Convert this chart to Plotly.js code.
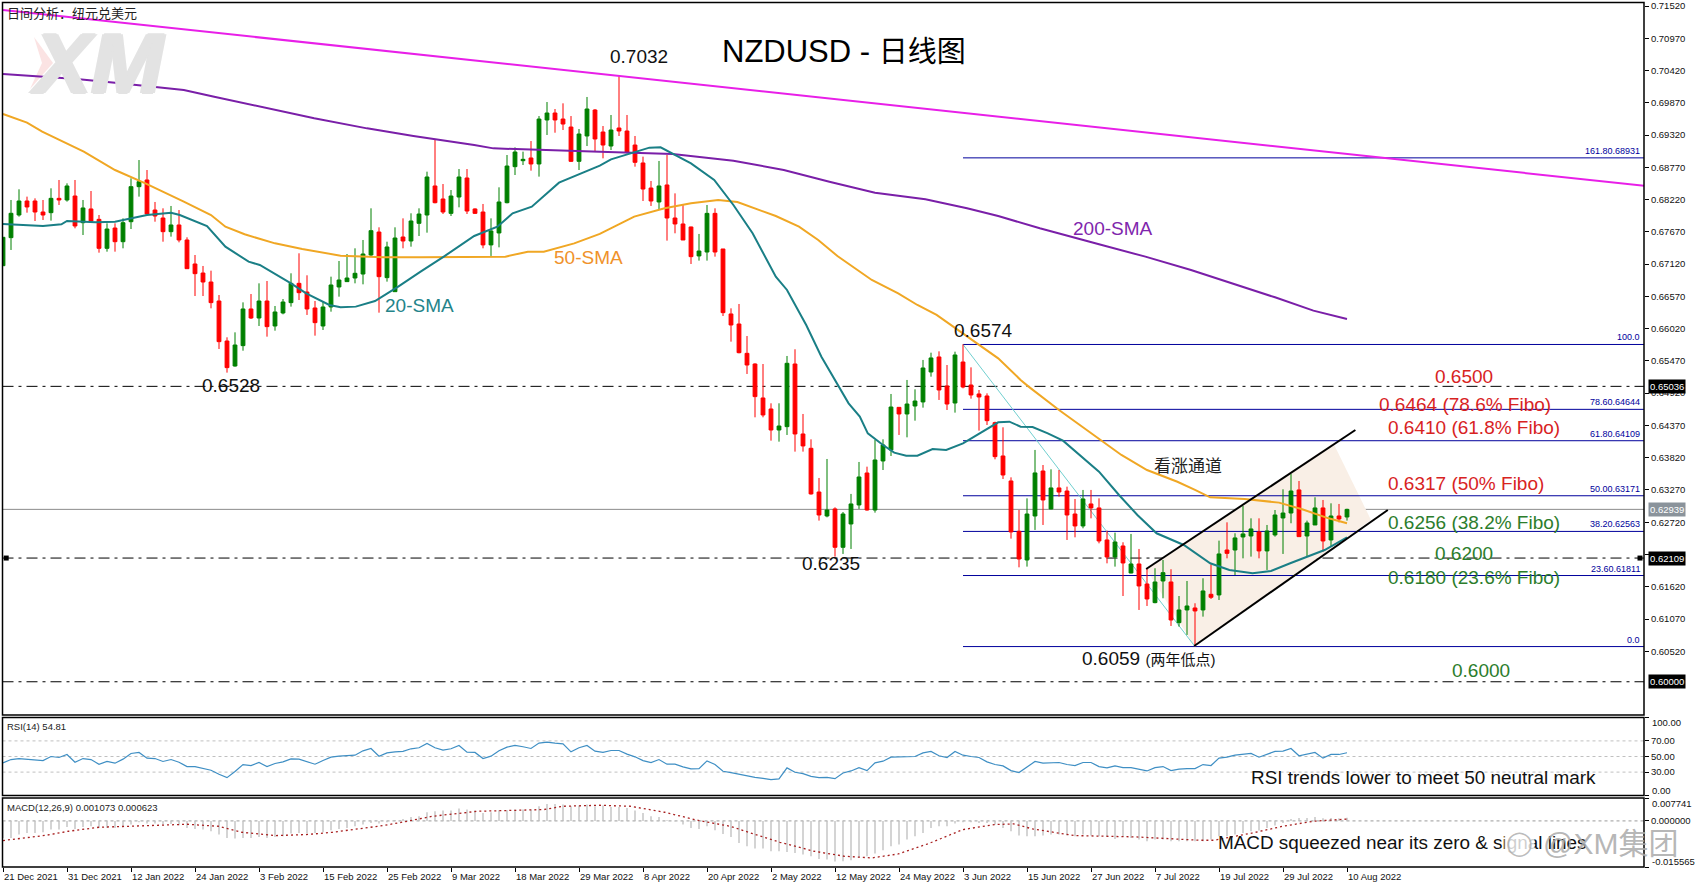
<!DOCTYPE html>
<html><head><meta charset="utf-8">
<script src="https://cdn.plot.ly/plotly-3.0.1.min.js"></script>
<style>html,body{margin:0;padding:0;background:#fff}#c{width:1696px;height:888px}</style>
</head><body><div id="c"></div>
<script>
const open=[.67093,.67571,.67957,.68196,.68196,.68008,.67997,.68241,.68213,.68281,
.67826,.68060,.67883,.67389,.67735,.67502,.67843,.68440,.68554,.68042,
.67906,.67673,.67787,.67531,.67122,.66968,.66815,.66491,.65809,.65383,
.65730,.66355,.66201,.66491,.66065,.66287,.66463,.66792,.66644,.66372,
.66065,.66389,.66730,.66821,.66883,.66951,.67275,.67667,.66889,.66650,
.67582,.67514,.67815,.67957,.68452,.68230,.67985,.68264,.68588,.68060,
.68008,.67447,.67651,.68167,.68781,.68883,.68929,.68827,.69577,.69696,
.69593,.69457,.68872,.69304,.69747,.69372,.69133,.69440,.69389,.69150,
.68844,.68417,.68179,.68469,.67906,.67804,.67753,.67259,.67326,.67985,
.67378,.66270,.66099,.65599,.65417,.64838,.64650,.64292,.64349,.65417,
.64224,.63980,.63235,.62826,.62946,.62292,.62690,.63014,.63559,.62928,
.63764,.63952,.64678,.64565,.64701,.64770,.65281,.65537,.65042,.64752,
.65451,.65059,.64906,.64872,.64417,.63849,.63423,.62565,.62076,.62826,
.63593,.62946,.63304,.63252,.62860,.62656,.63031,.62963,.62417,.62127,
.62315,.61854,.62008,.61667,.61349,.61718,.61701,.61008,.61224,.61258,
.61224,.61491,.61480,.62246,.62246,.62468,.62485,.62554,.62230,.62503,
.62792,.62877,.63270,.62485,.62673,.62963,.62417,.62826,.62809];
const high=[.67577,.68213,.68395,.68270,.68241,.68213,.68412,.68554,.68497,.68554,
.68213,.68366,.67957,.67815,.67815,.67900,.68582,.68894,.68724,.68179,
.68071,.68111,.68042,.67577,.67275,.67088,.67008,.66593,.65872,.65957,
.66468,.66610,.66792,.66832,.66406,.66525,.66963,.67304,.66929,.66491,
.66474,.66906,.67173,.67292,.67389,.67531,.68071,.67747,.67502,.67747,
.67900,.67986,.68071,.68696,.69247,.68485,.68383,.68741,.68741,.68071,
.68145,.67900,.68429,.68980,.69110,.69037,.69218,.69644,.69883,.69764,
.69861,.69644,.69423,.69969,.69764,.69474,.69662,.70326,.69662,.69304,
.68952,.68537,.68878,.68980,.68326,.68128,.67758,.67634,.68128,.68071,
.67378,.66366,.66440,.65894,.65429,.65417,.64747,.64747,.65554,.65668,
.64565,.64133,.63474,.63798,.62974,.62894,.63202,.63747,.63667,.64122,
.64133,.64906,.64678,.65145,.64985,.65486,.65610,.65633,.65400,.65627,
.65752,.65360,.64974,.64917,.64434,.64338,.63485,.62928,.63127,.63952,
.63695,.63622,.63610,.63326,.63116,.63270,.63270,.63127,.62576,.62542,
.62378,.62520,.62264,.61935,.61935,.62076,.61918,.61462,.61718,.61338,
.61764,.62002,.62406,.62718,.62531,.62997,.62786,.62786,.62673,.62928,
.63281,.63542,.63423,.62747,.63145,.63099,.63042,.63031,.62950];
const low=[.67093,.67361,.67929,.67997,.67855,.67872,.67861,.68128,.68185,.67730,
.67616,.67826,.67315,.67332,.67332,.67389,.67718,.68270,.67974,.67843,
.67502,.67588,.67491,.67042,.66576,.66576,.66366,.65673,.65270,.65372,
.65644,.66184,.66065,.65883,.65985,.66264,.66395,.66508,.66253,.65900,
.65997,.66309,.66565,.66815,.66792,.66775,.67247,.66292,.66821,.66650,
.67389,.67417,.67599,.67656,.68156,.67974,.67940,.68088,.67974,.67974,
.67389,.67259,.67406,.68156,.68639,.68809,.68713,.68611,.69321,.69360,
.69406,.68861,.68724,.69133,.69037,.68923,.69065,.69304,.69008,.68781,
.68196,.68111,.68054,.67520,.67645,.67531,.67122,.67179,.67179,.67247,
.66235,.65798,.65599,.65247,.64508,.64508,.64110,.64093,.64207,.63923,
.63923,.63190,.62747,.62803,.62133,.62179,.62264,.62946,.62917,.62883,
.63610,.63849,.64207,.64167,.64451,.64673,.65201,.64804,.64633,.64588,
.65002,.64826,.64281,.64377,.63792,.63457,.62440,.61951,.61963,.62588,
.62673,.62940,.63156,.62417,.62462,.62616,.62786,.62360,.62019,.61963,
.61462,.61849,.61224,.61292,.61338,.61423,.60951,.60940,.60798,.60604,
.61110,.61411,.61394,.62104,.61820,.62104,.62133,.62104,.61906,.62474,
.62179,.62702,.62474,.62133,.62673,.62218,.62303,.62718,.62747];
const close=[.67577,.67986,.68196,.68094,.68008,.67957,.68241,.68213,.68452,.67770,
.68077,.67855,.67389,.67718,.67502,.67826,.68440,.68525,.67974,.67940,
.67673,.67787,.67531,.67042,.66957,.66815,.66463,.65798,.65355,.65741,
.66355,.66201,.66491,.66054,.66304,.66474,.66792,.66633,.66355,.66122,
.66389,.66764,.66849,.66883,.66963,.67292,.67690,.66906,.67412,.67565,
.67514,.67855,.67974,.68605,.68167,.68008,.68281,.68605,.68025,.67985,
.67447,.67685,.68179,.68792,.69031,.68906,.68827,.69593,.69696,.69577,
.69508,.68872,.69338,.69764,.69253,.69150,.69406,.69389,.69031,.68855,
.68400,.68196,.68452,.67906,.67804,.67531,.67247,.67343,.67985,.67326,
.66292,.66082,.65610,.65400,.64861,.64548,.64292,.64360,.65429,.64224,
.64020,.63202,.62843,.62928,.62292,.62860,.63031,.63491,.62928,.63781,
.64037,.64684,.64565,.64735,.64786,.65349,.65520,.64974,.64735,.65571,
.65025,.64889,.64855,.64451,.63838,.63525,.62554,.62093,.62860,.63560,
.63099,.63304,.63235,.62843,.62656,.63116,.62963,.62400,.62127,.62383,
.62025,.62008,.61633,.61411,.61701,.61860,.61053,.61224,.61292,.61207,
.61548,.61440,.62179,.62189,.62452,.62520,.62605,.62230,.62571,.62843,
.62877,.63252,.62474,.62707,.62963,.62400,.62826,.62775,.62939];

const sma20Bar=[0,2,5,7.3,8,11.6,14,18,21,22.1,25.5,27.8,30.7,32.1,36,37.9,40.8,42.2,44.1,46.5,49.4,52.2,55.1,58.9,61.8,63.7,66.1,69.5,72.8,74.6,76,78.9,80.8,82.2,84.1,86,88.9,91.3,93.7,96.6,98,100.4,102.3,104.2,105.7,107.1,108.1,110,111.4,112.9,114.3,116.2,117.9,120,122.4,124.4,125.8,127.2,128.7,130.6,132.5,134.4,137,139.5,141.8,144.2,147.6,150.9,153.3,156.2,158.5,160.9,163.8,165.2,168];
const sma20=[.67804,.67787,.67770,.67798,.67855,.67832,.67843,.67957,.67997,.67957,.67770,.67417,.67162,.67105,.66792,.66622,.66423,.66383,.66395,.66491,.66736,.66991,.67247,.67599,.67758,.67986,.68099,.68508,.68696,.68798,.68906,.69031,.69105,.69110,.68980,.68838,.68554,.68128,.67645,.66906,.66679,.66082,.65542,.65088,.64747,.64520,.64235,.64037,.63906,.63855,.63855,.63968,.63952,.64065,.64264,.64423,.64434,.64349,.64343,.64235,.64110,.63894,.63582,.63184,.62843,.62531,.62332,.62020,.61906,.61849,.61889,.62020,.62179,.62246,.62462];
const sma50Bar=[0,3,4.9,10.1,14,17.8,22.6,26,27.8,30.2,34,37.4,42.2,47.5,52.2,60.9,62.8,65.6,67.6,71.4,74.6,78.9,82.7,86,89.4,91.8,96.6,99.5,101.9,104.3,108.6,111.9,114.3,116.7,120,124.4,127.2,128.2,132,137.3,139.8,143,146.8,149,150.9,155.2,159.5,162.4,165.7,168];
const sma50=[.69679,.69531,.69378,.69037,.68724,.68497,.68185,.67957,.67758,.67628,.67474,.67378,.67264,.67235,.67235,.67235,.67247,.67332,.67332,.67474,.67634,.67929,.68071,.68156,.68213,.68179,.67940,.67758,.67531,.67259,.66849,.66622,.66423,.66253,.65940,.65514,.65145,.65031,.64633,.64122,.63866,.63610,.63410,.63270,.63145,.63116,.63054,.62940,.62786,.62701];
const sma200Bar=[0,9.2,14,22.6,26.4,32.2,38.9,45.5,51.3,58.9,61.3,74.6,83.7,91.3,97.6,103.3,109,115.3,120.5,124.4,129.6,137,142.8,148.5,154.3,159,163.8,168];
const sma200=[.70361,.70275,.70213,.70088,.69974,.69804,.69605,.69434,.69304,.69150,.69093,.69037,.68997,.68883,.68724,.68525,.68338,.68224,.68071,.67940,.67730,.67458,.67247,.67020,.66764,.66554,.66327,.66185];
const trendBar=[0,205.4];
const trendPrice=[.71452,.68452];

const rsi=[41.8,46.1,47.4,46.6,46.1,44.8,50,48.7,52.6,42.7,47.4,46.1,40.1,43.6,41.4,46.6,53.9,55.2,47.9,47.4,
43.6,46.1,42.7,37.1,37.1,34.5,32.4,27.2,22.9,30.7,39.7,38.4,42.3,37.1,41,43.1,47,46.6,43.6,40.1,
44.8,49.1,50.4,51.3,51.7,57.3,60.3,50.4,54.7,56,56.5,59.9,61.2,66.8,61.2,58.2,59.9,64.2,55.6,55.2,
47.4,50.4,57.3,62,64.2,62.5,60.3,67.2,68.5,67.2,66.3,56,61.2,64.2,56.9,
55.2,57.7,57.7,53,49.6,44.8,42.3,46.1,40.1,40.1,36.7,34.1,34.5,44.4,39.7,31.1,29.4,27.2,25.5,23.3,22,20.3,21.2,35.4,29.8,
28.1,24.6,22.9,23.3,21.6,28.9,31.5,35.8,31.9,41.8,44,49.1,49.1,50,50,54.7,56.5,50.9,48.7,56.5,
51.7,50,48.7,43.1,39.7,38,31.9,29.4,36.7,43.6,41.4,42.3,42.3,39.7,38.4,42.3,42.3,37.1,35.4,38,
35.8,35.8,33.2,31.5,35.8,37.1,31.9,33.7,34.5,34.5,
39.7,38.4,47.9,49.1,51.7,53,53.9,49.1,52.6,56.5,56.9,60.3,50.9,53,55.2,47.9,52.6,52.6,54.81];

const macdHist=[-.00574,-.00574,-.00462,-.00405,-.00405,-.00383,-.00293,-.00293,-.00203,-.0027,
-.00203,-.0018,-.00236,-.00236,-.00236,-.00214,-.00124,-.00045,-.0009,-.0009,
-.00124,-.00101,-.00146,-.00236,-.0027,-.00293,-.00349,-.00462,-.00574,-.00597,
-.00574,-.00574,-.0054,-.00574,-.0054,-.00518,-.00428,-.00405,-.00428,-.00405,
-.00383,-.00315,-.0027,-.00236,-.0018,-.00124,-.00068,-.0009,-.00045,.00023,
.00068,.00135,.00158,.00293,.00327,.00349,.00349,.00417,.00383,.0036,
.0027,.00293,.0036,.0036,.00383,.00383,.00383,.00495,.00574,.00574,
.00552,.00495,.00518,.00552,.00495,
.00518,.00473,.00473,.00439,.00349,.0027,.00158,.00135,.00023,-.00011,
-.00124,-.00236,-.0027,-.0018,-.00315,-.00439,-.0054,-.00743,-.00856,-.00935,
-.00935,-.01025,-.01025,-.01047,-.01081,-.01137,-.01194,-.01284,-.01306,-.01374,
-.01362,-.01329,-.0125,-.01194,-.01103,-.00991,-.00856,-.00799,-.00631,-.00518,
-.00405,-.00236,-.0018,-.0018,-.0009,-.00045,-.00045,-.00068,-.00068,-.00124,
-.00236,-.00349,-.00495,-.00518,-.00518,-.00495,-.00462,-.00462,-.00495,-.00518,
-.00462,-.00495,-.00518,-.0054,-.00608,-.0054,-.00574,-.00631,-.00687,-.00631,
-.00631,-.00687,-.00687,-.00687,-.00687,
-.00687,-.00631,-.00518,-.00518,-.00462,-.00405,-.00349,-.00327,-.00236,-.00158,
-.00068,.00068,.00101,.00101,.00135,.0009,.00101,.0009,.00107];
const macdSignalBar=[0,5.4,8.2,12,15.9,23,26.9,29.8,34,37.9,41.2,47.5,50.3,52.3,53.7,59.4,64.7,67.6,70,74.6,78.4,82.7,87,90.9,93.7,97.1,101.4,105.2,108.6,111.9,115.7,120,123.9,126.3,128.7,133.9,141.6,149.6,151.4,156.2,160,163.8,168];
const macdSignal=[-.00664,-.00484,-.00349,-.00214,-.0018,-.00113,-.0018,-.00383,-.00495,-.00462,-.00383,-.00158,-.00023,.00079,.00158,.00327,.00349,.00383,.00495,.00529,.00495,.00293,.00011,-.0018,-.00428,-.00721,-.01025,-.01194,-.0125,-.01115,-.00766,-.00293,-.00124,-.00101,-.0027,-.00495,-.0054,-.00653,-.00653,-.00405,-.0018,-.00011,.000623];

const dateLabels=['21 Dec 2021','31 Dec 2021','12 Jan 2022','24 Jan 2022','3 Feb 2022','15 Feb 2022','25 Feb 2022','9 Mar 2022','18 Mar 2022','29 Mar 2022','8 Apr 2022','20 Apr 2022','2 May 2022','12 May 2022','24 May 2022','3 Jun 2022','15 Jun 2022','27 Jun 2022','7 Jul 2022','19 Jul 2022','29 Jul 2022','10 Aug 2022'];
const dateBars=dateLabels.map((_,i)=>i*8);
const priceTicks=[.7152,.7097,.7042,.6987,.6932,.6877,.6822,.6767,.6712,.6657,.6602,.6547,.6492,.6437,.6382,.6327,.6272,.6217,.6162,.6107,.6052];
const fiboLevels=[.68931,.6575,.64644,.64109,.63171,.62563,.61811,.6060];
const fiboTexts=['161.80.68931','100.0','78.60.64644','61.80.64109','50.00.63171','38.20.62563','23.60.61811','0.0'];
const hLevels=[.65036,.62109,.60000];
const lastPrice=.62939;
const rsiLevels=[70,50,30];
const channelUpper={bar:[142.9,169.05],price:[.61923,.64292]};
const channelLower={bar:[148.9,173.1],price:[.6061,.62928]};
const channelFillBar=[142.9,148.9,171,166.3];
const channelFillPrice=[.61923,.6061,.62758,.64065];
const fiboTrendBar=[120,149];
const fiboTrendPrice=[.6575,.6060];

const W=1696,H=888;
const PL=2.5,PR=1644,MT=2.5,MB=715,RT=717.5,RB=795.5,DT=798,DB=867;
const SANS='"Liberation Sans",Arial,sans-serif', SMALL='"Liberation Sans",sans-serif', CJK='"Liberation Sans","Noto Sans CJK SC",sans-serif';
const px=v=>v/W, py=v=>1-v/H;
const note=(text,x,y,size,color,anchor='left',font=CJK)=>({xref:'paper',yref:'paper',x:px(x),y:py(y),xanchor:anchor,yanchor:'middle',showarrow:false,text,font:{family:font,size,color}});
const x=close.map((_,i)=>i);
const barEnd=(PR-3)/8;

const traces=[
 {type:'candlestick',x,open,high,low,close,xaxis:'x',yaxis:'y',whiskerwidth:0,
  increasing:{line:{color:'#008000',width:1},fillcolor:'#008000'},
  decreasing:{line:{color:'#ff0000',width:1},fillcolor:'#ff0000'},showlegend:false},
 {type:'scatter',mode:'lines',x:trendBar,y:trendPrice,line:{color:'#e81fe8',width:2},yaxis:'y',showlegend:false},
 {type:'scatter',mode:'lines',x:sma200Bar,y:sma200,line:{color:'#7a1fa8',width:2},yaxis:'y',showlegend:false},
 {type:'scatter',mode:'lines',x:sma50Bar,y:sma50,line:{color:'#f0a724',width:2},yaxis:'y',showlegend:false},
 {type:'scatter',mode:'lines',x:sma20Bar,y:sma20,line:{color:'#1a7f86',width:2},yaxis:'y',showlegend:false},
 {type:'scatter',mode:'markers',x:[0.4,barEnd-0.5],y:[hLevels[1],hLevels[1]],marker:{symbol:'square',size:5,color:'#000'},yaxis:'y',showlegend:false,cliponaxis:false},
 {type:'scatter',mode:'lines',x,y:rsi,line:{color:'#3f8fc4',width:1.2},yaxis:'y2',xaxis:'x',showlegend:false},
 {type:'bar',x,y:macdHist,width:0.16,marker:{color:'#bcbcbc',line:{width:0}},yaxis:'y3',xaxis:'x',showlegend:false},
 {type:'scatter',mode:'lines',x:macdSignalBar,y:macdSignal,line:{color:'#a82020',width:1.3,dash:'2px,3px'},yaxis:'y3',xaxis:'x',showlegend:false}
];

const shapes=[];
const dashdot='11px,5px,3px,5px';
shapes.push({type:'path',layer:'below',xref:'x',yref:'y',
  path:channelFillBar.map((b,i)=>(i?'L':'M')+b+','+channelFillPrice[i]).join(' ')+' Z',
  fillcolor:'#f9efe6',line:{width:0}});
shapes.push({type:'line',layer:'below',xref:'paper',yref:'y',x0:px(PL),x1:px(PR),y0:lastPrice,y1:lastPrice,line:{color:'#8c8c8c',width:1}});
hLevels.forEach(l=>shapes.push({type:'line',layer:'below',xref:'paper',yref:'y',x0:px(PL),x1:px(PR),y0:l,y1:l,line:{color:'#000',width:1,dash:dashdot}}));
fiboLevels.forEach(l=>shapes.push({type:'line',layer:'below',xref:'x',yref:'y',x0:120,x1:barEnd,y0:l,y1:l,line:{color:'#00009c',width:1}}));
shapes.push({type:'line',layer:'below',xref:'x',yref:'y',x0:fiboTrendBar[0],x1:fiboTrendBar[1],y0:fiboTrendPrice[0],y1:fiboTrendPrice[1],line:{color:'#70cfcf',width:1}});
[channelUpper,channelLower].forEach(c=>shapes.push({type:'line',layer:'above',xref:'x',yref:'y',x0:c.bar[0],x1:c.bar[1],y0:c.price[0],y1:c.price[1],line:{color:'#000',width:2}}));
rsiLevels.forEach(l=>shapes.push({type:'line',layer:'below',xref:'paper',yref:'y2',x0:px(PL),x1:px(PR),y0:l,y1:l,line:{color:'#c0c0c0',width:1,dash:'3px,3px'}}));
shapes.push({type:'line',layer:'below',xref:'paper',yref:'y3',x0:px(PL),x1:px(PR),y0:0,y1:0,line:{color:'#9a9a9a',width:1,dash:'3px,3px'}});
[[MT,MB],[RT,RB],[DT,DB]].forEach(([t,b])=>shapes.push({type:'rect',layer:'above',xref:'paper',yref:'paper',x0:px(PL),x1:px(PR),y0:py(t),y1:py(b),line:{color:'#000',width:1.5}}));
shapes.push({type:'path',layer:'below',xref:'paper',yref:'paper',path:`M${px(34)},${py(37)} L${px(53)},${py(63)} L${px(30)},${py(89)} L${px(42)},${py(63)} Z`,fillcolor:'#fbe3e3',line:{width:0}});

const RED='#d8231f',GREEN='#2c7d2c',TXT='#111';
const logoFont={family:SANS,size:86,color:'#e3e3e3',weight:700,style:'italic',shadow:'2px 0 0 #e3e3e3,-2px 0 0 #e3e3e3,0 1px 0 #e3e3e3,0 -1px 0 #e3e3e3'};
const annotations=[
 {xref:'paper',yref:'paper',x:px(28),y:py(63),xanchor:'left',yanchor:'middle',showarrow:false,text:'XM',font:logoFont},
 note('日间分析：纽元兑美元',5,13,13,'#222'),
 note('NZDUSD - <span style="font-size:29px">日线图</span>',720,52,31,'#000'),
 note('0.7032',608,57,19,TXT),
 note('0.6528',200,385,19,TXT),
 note('0.6574',952,330,19,TXT),
 note('0.6235',800,563,19,TXT),
 note('0.6059 <span style="font-size:15px">(两年低点)</span>',1080,658,19,TXT),
 note('看涨通道',1152,466,17,'#222'),
 note('20-SMA',383,306,19,'#23848a'),
 note('50-SMA',552,257,19,'#f0922a'),
 note('200-SMA',1071,228,19,'#7f26ad'),
 note('0.6500',1433,376,19,RED),
 note('0.6464 (78.6% Fibo)',1377,404,19,RED),
 note('0.6410 (61.8% Fibo)',1386,428,19,RED),
 note('0.6317 (50% Fibo)',1386,483,19,RED),
 note('0.6256 (38.2% Fibo)',1386,522,19,GREEN),
 note('0.6200',1433,553,19,GREEN),
 note('0.6180 (23.6% Fibo)',1386,577,19,GREEN),
 note('0.6000',1450,670,19,GREEN),
 note('RSI(14) 54.81',5,726.5,9.5,'#222','left',SMALL),
 note('MACD(12,26,9) 0.001073 0.000623',5,807,9.5,'#222','left',SMALL),
 note('RSI trends lower to meet 50 neutral mark',1249,777,18.9,TXT,'left',SANS),
 note('MACD squeezed near its zero &amp; signal lines',1216,842,18.9,TXT,'left',SANS),
 {xref:'paper',yref:'paper',x:px(1504),y:py(843),xanchor:'left',yanchor:'middle',showarrow:false,text:'◯',bgcolor:'rgba(255,255,255,0.8)',font:{family:'"DejaVu Sans",sans-serif',size:24,color:'rgba(170,170,170,0.8)'}},
 note('@XM集团',1541,843,30,'rgba(170,170,170,0.85)'),
 note('100.00',1650,722,9.5,'#111','left',SMALL),
 note('0.00',1650,790.5,9.5,'#111','left',SMALL),
 note('0.007741',1650,803,9.5,'#111','left',SMALL),
 note('-0.015565',1650,861.5,9.5,'#111','left',SMALL)
];
fiboLevels.forEach((l,i)=>annotations.push({xref:'paper',yref:'y',x:px(1642),y:l,xanchor:'right',yanchor:'bottom',showarrow:false,text:fiboTexts[i],font:{family:SMALL,size:9,color:'#00009c'}}));
const badge=(v,bg)=>({xref:'paper',yref:'y',x:px(1648),y:v,xanchor:'left',yanchor:'middle',showarrow:false,text:v.toFixed(5),bgcolor:bg,borderpad:1,font:{family:SMALL,size:9.5,color:'#fff'}});
annotations.push(badge(hLevels[0],'#000'),badge(lastPrice,'#8a939b'),badge(hLevels[1],'#000'),badge(hLevels[2],'#000'));
dateLabels.forEach((t,i)=>annotations.push({xref:'x',yref:'paper',x:dateBars[i],y:py(876.5),xanchor:'left',yanchor:'middle',xshift:-1,showarrow:false,text:t,font:{family:SMALL,size:9.5,color:'#111'}}));

const tickFont={family:SMALL,size:9.5,color:'#111'};
const layout={width:W,height:H,margin:{l:0,r:0,t:0,b:0},paper_bgcolor:'#fff',plot_bgcolor:'#fff',showlegend:false,hovermode:false,boxgap:0.32,barmode:'overlay',
 xaxis:{domain:[px(PL),px(PR)],range:[(PL-3)/8,barEnd],anchor:'y3',type:'linear',tickmode:'array',tickvals:dateBars,ticks:'outside',ticklen:4,tickcolor:'#000',showticklabels:false,showgrid:false,zeroline:false,rangeslider:{visible:false}},
 yaxis:{domain:[py(MB),py(MT)],range:[.7152-(MB-6)/5866,.7152+(6-MT)/5866],side:'right',anchor:'x',tickmode:'array',tickvals:priceTicks,tickformat:'.5f',ticks:'outside',ticklen:4,tickcolor:'#000',tickfont:tickFont,showgrid:false,zeroline:false},
 yaxis2:{domain:[py(RB),py(RT)],range:[0,100],side:'right',anchor:'x',tickmode:'array',tickvals:[0,30,50,70,100],ticktext:['','30.00','50.00','70.00',''],ticks:'outside',ticklen:4,tickcolor:'#000',tickfont:tickFont,showgrid:false,zeroline:false},
 yaxis3:{domain:[py(DB),py(DT)],range:[-.015565,.007741],side:'right',anchor:'x',tickmode:'array',tickvals:[-.015565,0,.007741],ticktext:['','0.000000',''],ticks:'outside',ticklen:4,tickcolor:'#000',tickfont:tickFont,showgrid:false,zeroline:false},
 shapes,annotations};
Plotly.newPlot('c',traces,layout,{displayModeBar:false,staticPlot:true});
</script></body></html>
